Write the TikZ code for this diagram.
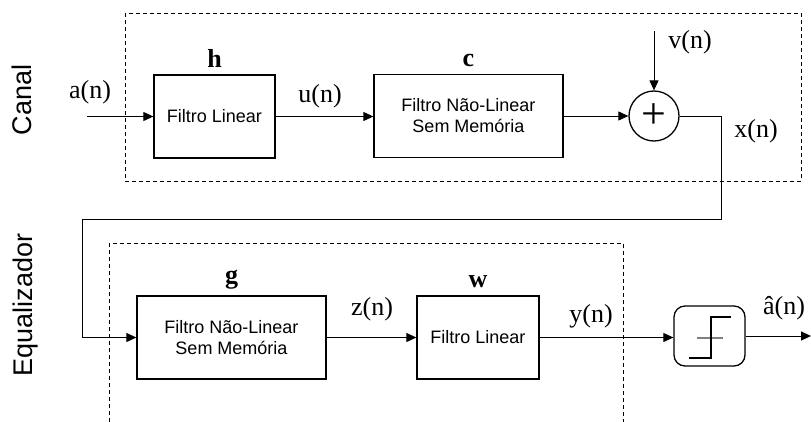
\documentclass[tikz,border=0pt]{standalone}
\usepackage{fontspec}
\setmainfont{Liberation Serif}
\newfontfamily\blocofont{Liberation Sans}
\usetikzlibrary{arrows.meta,calc}

\tikzset{
  bloco/.style = {draw, line width=1.3pt, inner sep=0pt, align=center,
                  font=\blocofont\fontsize{18}{21}\selectfont},
  sinal/.style = {inner sep=0pt, font=\fontsize{26}{30}\selectfont},
  coef/.style  = {inner sep=0pt, anchor=base, font=\bfseries\fontsize{26}{28}\selectfont},
  seta/.style  = {-{Triangle[length=10pt,width=9pt]}, line width=1pt},
  limite/.style = {line width=0.9pt, dash pattern=on 4pt off 3pt},
  regiao/.style = {rotate=90, inner sep=0pt, font=\blocofont\fontsize{27}{30}\selectfont}
}

\begin{document}
\begin{tikzpicture}[x=1pt, y=-1pt]
  \useasboundingbox (0,0) rectangle (811,421);
  \clip (0,0) rectangle (811,421);

  % regioes tracejadas
  \draw [limite] (125,13) rectangle (801,181);
  \draw [limite] (109,243) rectangle (623,440);
  \node [regiao] (canal) at (22,100) {Canal};
  \node [regiao] (equal) at (26,305) {Equalizador};

  % canal
  \node [bloco, minimum width=121, minimum height=83] (h) at (214.5,116.5) {Filtro Linear};
  \node [bloco, minimum width=189, minimum height=83] (c) at (468.5,116) {Filtro Não-Linear\\Sem Memória};
  \node [draw, circle, line width=1.3pt, minimum size=50, inner sep=0pt,
         font=\fontsize{44}{44}\selectfont] (soma) at (654,116) {+};
  \node [coef, yshift=7pt] (hl) at (h.north) {h};
  \node [coef, yshift=7pt] (cl) at (c.north) {c};

  % equalizador
  \node [bloco, minimum width=189, minimum height=83] (g) at (231.5,337.5) {Filtro Não-Linear\\Sem Memória};
  \node [bloco, minimum width=122, minimum height=83] (w) at (478,337.5) {Filtro Linear};
  \node [draw, rounded corners=11pt, line width=1.3pt, minimum width=71, minimum height=60] (dec) at (709.5,336) {};
  \node [coef, yshift=12pt] (gl) at (g.north) {g};
  \node [coef, yshift=8pt] (wl) at (w.north) {w};

  % simbolo do decisor
  \draw [gray, line width=1.1pt] ($(dec.center)+(-12.5,2)$) -- ($(dec.center)+(13.5,2)$);
  \draw [line width=1.1pt] ($(dec.center)+(-20.5,22)$) -- ($(dec.center)+(1.5,22)$)
        -- ($(dec.center)+(1.5,-19)$) -- ($(dec.center)+(21.5,-19)$);

  % sinais
  \node [sinal] (an) at (90,92) {a(n)};
  \node [sinal] (un) at (320,96) {u(n)};
  \node [sinal] (vn) at (690,42) {v(n)};
  \node [sinal] (xn) at (756,131) {x(n)};
  \node [sinal] (zn) at (372,309) {z(n)};
  \node [sinal] (yn) at (591,316) {y(n)};
  \node [sinal] (ahat) at (784,308) {â(n)};

  % conexoes
  \coordinate (ent) at (87,116.5);
  \coordinate (ruido) at (654,31);
  \coordinate (d1) at (721,219);
  \coordinate (d2) at (82,219);
  \coordinate (saida) at (811,336);
  \draw [seta] (ent) -- (h.west);
  \draw [seta] (h.east) -- (h.east -| c.west);
  \draw [seta] (c.east) -- (soma.west);
  \draw [seta] (ruido) -- (soma.north);
  \draw [seta] (soma.east) -| (d1) -- (d2) |- (g.west);
  \draw [seta] (g.east) -- (w.west);
  \draw [seta] (w.east) -- (w.east -| dec.west);
  \draw [seta] (dec.east) -- (saida);
\end{tikzpicture}
\end{document}
